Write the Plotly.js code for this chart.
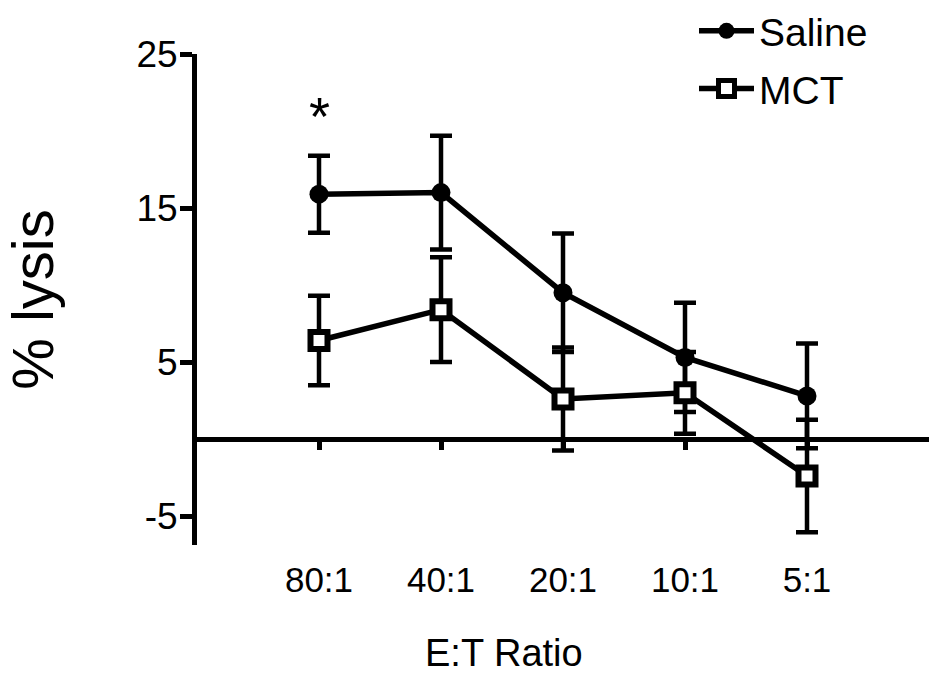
<!DOCTYPE html>
<html>
<head>
<meta charset="utf-8">
<script src="https://cdn.plot.ly/plotly-3.0.1.min.js"></script>
<style>html,body{margin:0;padding:0;background:#fff;}#chart{width:929px;height:675px;}</style>
</head>
<body>
<div id="chart"></div>
<script>
var categories = ['80:1', '40:1', '20:1', '10:1', '5:1'];
var salineMean = [15.9, 16.0, 9.5, 5.3, 2.8];
var salineErr = [2.5, 3.7, 3.85, 3.55, 3.4];
var mctMean = [6.4, 8.4, 2.6, 3.0, -2.4];
var mctErr = [2.9, 3.4, 3.35, 2.65, 3.65];
var yTickVals = [25, 15, 5, -5];
var yTickText = ['25', '15', '5', '-5'];
var yRange = [-6.88, 25];

var FONT = 'Liberation Sans, Arial, Helvetica, sans-serif';

var traces = [
  {
    x: categories, y: salineMean, name: 'Saline', type: 'scatter', mode: 'lines+markers',
    legendgroup: 'a',
    line: {color: '#000', width: 5.5},
    marker: {symbol: 'circle', size: 19, color: '#000', line: {width: 0}},
    error_y: {type: 'data', array: salineErr, visible: true, color: '#000', thickness: 4.5, width: 11}
  },
  {
    x: categories, y: mctMean, name: 'MCT', type: 'scatter', mode: 'lines+markers',
    legendgroup: 'b',
    line: {color: '#000', width: 5.5},
    marker: {symbol: 'square', size: 17, color: '#fff', line: {color: '#000', width: 6}},
    error_y: {type: 'data', array: mctErr, visible: true, color: '#000', thickness: 4.5, width: 11}
  },
  {
    x: categories, y: categories.map(function(){return 0;}), xaxis: 'x2', yaxis: 'y',
    type: 'scatter', mode: 'markers', marker: {opacity: 0}, showlegend: false, hoverinfo: 'skip'
  }
];

var zeroPos = (0 - yRange[0]) / (yRange[1] - yRange[0]);

var layout = {
  width: 929, height: 675,
  margin: {l: 197, r: 0, t: 54, b: 130, autoexpand: false},
  paper_bgcolor: '#fff', plot_bgcolor: '#fff',
  font: {family: FONT, color: '#000'},
  showlegend: true,
  legend: {
    x: (694 - 197) / 732, xanchor: 'left', y: 1.112, yanchor: 'top',
    font: {family: FONT, size: 39, color: '#000'},
    bgcolor: 'rgba(0,0,0,0)', tracegroupgap: 4, traceorder: 'grouped', itemwidth: 55
  },
  xaxis: {
    type: 'category', range: [-1, 5], showline: false, showgrid: false, zeroline: false,
    ticks: '', ticklabelstandoff: 11,
    tickfont: {family: FONT, size: 35, color: '#000'}
  },
  xaxis2: {
    type: 'category', overlaying: 'x', anchor: 'free', position: zeroPos, side: 'bottom',
    range: [-1, 5], showline: false, showgrid: false, zeroline: false,
    ticks: 'outside', ticklen: 10, tickwidth: 4.5, tickcolor: '#000',
    tickmode: 'array', tickvals: categories, showticklabels: false
  },
  yaxis: {
    range: yRange, showline: true, linewidth: 5, linecolor: '#000',
    showgrid: false, zeroline: true, zerolinewidth: 5, zerolinecolor: '#000',
    ticks: 'outside', ticklen: 12, tickwidth: 5, tickcolor: '#000',
    tickmode: 'array', tickvals: yTickVals, ticktext: yTickText, ticklabelstandoff: -5,
    tickfont: {family: FONT, size: 37, color: '#000'},
    title: {text: '% lysis', font: {family: FONT, size: 58, color: '#000'}, standoff: 67}
  },
  annotations: [
    {x: '80:1', y: 21.0, xref: 'x', yref: 'y', text: '*', showarrow: false,
     font: {family: FONT, size: 54, color: '#000'}, xanchor: 'center', yanchor: 'middle'},
    {x: (504 - 197) / 732, y: (545 - 653) / 491, xref: 'paper', yref: 'paper', text: 'E:T Ratio',
     showarrow: false, font: {family: FONT, size: 38, color: '#000'}, xanchor: 'center', yanchor: 'middle'}
  ]
};

Plotly.newPlot('chart', traces, layout, {displayModeBar: false, responsive: false});
</script>
</body>
</html>
